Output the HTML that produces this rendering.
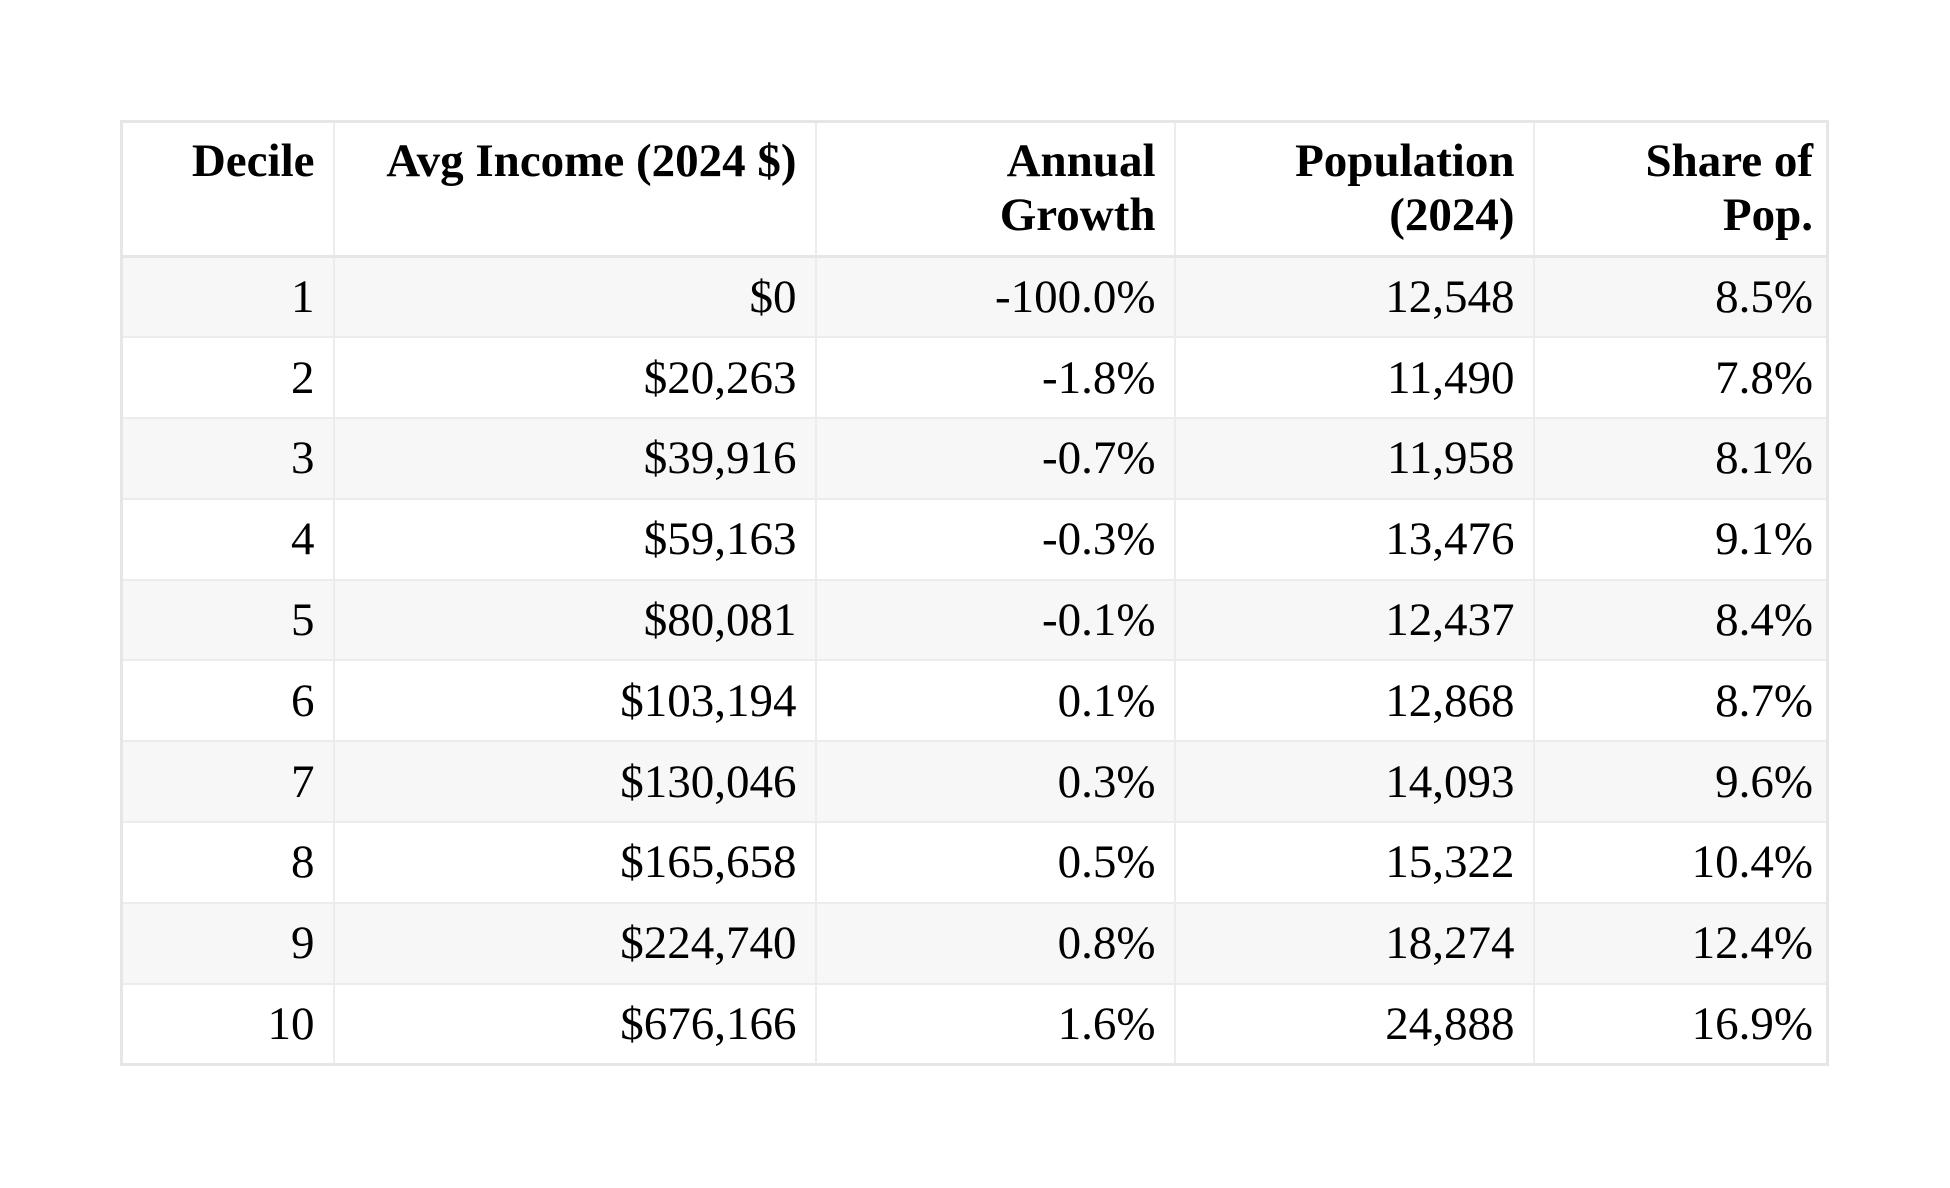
<!DOCTYPE html>
<html><head><meta charset="utf-8"><style>
html,body{margin:0;padding:0;background:#fff;width:1950px;height:1188px;overflow:hidden}
table{position:absolute;left:120px;top:120px;width:1706px;border-collapse:collapse;table-layout:fixed;font-family:"Liberation Serif",serif;font-size:47px;color:#000;border:3px solid #e6e6e6}
th,td{border:2px solid #ececec;text-align:right;padding:0 18px 0 17px;line-height:54px}
th{font-weight:bold;vertical-align:top;height:135px;box-sizing:border-box;padding-top:11px;border-bottom:3px solid #e6e6e6}
td{height:80.8px;box-sizing:border-box;vertical-align:middle}
th:last-child,td:last-child{padding-right:13px}
tbody tr:nth-child(odd) td{background:#f7f7f7}
</style></head><body>
<table>
<colgroup><col style="width:212px"><col style="width:482px"><col style="width:359px"><col style="width:359px"><col style="width:294px"></colgroup>
<thead><tr>
<th>Decile</th>
<th>Avg Income (2024 $)</th>
<th>Annual<br>Growth</th>
<th>Population<br>(2024)</th>
<th>Share of<br>Pop.</th>
</tr></thead>
<tbody id="tb"></tbody>
</table>
<script>
const deciles=["1","2","3","4","5","6","7","8","9","10"];
const incomes=["$0","$20,263","$39,916","$59,163","$80,081","$103,194","$130,046","$165,658","$224,740","$676,166"];
const growth=["-100.0%","-1.8%","-0.7%","-0.3%","-0.1%","0.1%","0.3%","0.5%","0.8%","1.6%"];
const population=["12,548","11,490","11,958","13,476","12,437","12,868","14,093","15,322","18,274","24,888"];
const share=["8.5%","7.8%","8.1%","9.1%","8.4%","8.7%","9.6%","10.4%","12.4%","16.9%"];
const names=["decile-cell","avg-income-cell","annual-growth-cell","population-cell","share-cell"];
const tb=document.getElementById('tb');
deciles.forEach((d,i)=>{
  const tr=document.createElement('tr');
  
  
  [d,incomes[i],growth[i],population[i],share[i]].forEach((v,j)=>{
    const td=document.createElement('td');
    
    
    td.textContent=v;
    tr.appendChild(td);
  });
  tb.appendChild(tr);
});
</script>
</body></html>
